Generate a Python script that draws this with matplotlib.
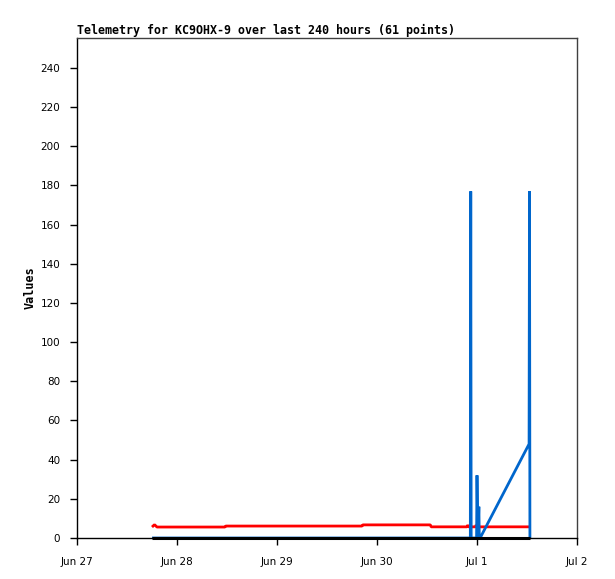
import matplotlib
matplotlib.use("Agg")
import matplotlib.pyplot as plt
import matplotlib.dates as mdates
from datetime import datetime, timedelta

start = datetime(2024, 6, 27)

# hours since Jun 27 00:00
red_hours = [18.0, 18.6, 19.2, 35.5, 35.7, 68.4, 68.6, 84.8, 85.0, 93.6, 93.8, 94.0, 95.6, 95.8, 96.0, 108.7]
red_vals = [5.6, 6.8, 5.6, 5.6, 6.1, 6.1, 6.7, 6.7, 5.7, 5.7, 6.6, 5.7, 5.7, 6.6, 5.7, 5.7]

black_hours = [18.0, 108.7]
black_vals = [0, 0]

blue_hours = [18.0, 94.4, 94.5, 94.6, 95.9, 96.0, 96.2, 96.45, 96.55, 96.75, 108.5, 108.6, 108.7]
blue_vals = [0, 0, 177, 0, 0, 32, 0, 16, 0, 0, 48, 177, 0]

tick_days = [0, 1, 2, 3, 4, 5]
tick_labels = ["Jun 27", "Jun 28", "Jun 29", "Jun 30", "Jul 1", "Jul 2"]
y_ticks = list(range(0, 241, 20))

title = "Telemetry for KC9OHX-9 over last 240 hours (61 points)"


def to_num(hours):
    return [mdates.date2num(start + timedelta(hours=h)) for h in hours]


fig = plt.figure(figsize=(6.15, 5.79), dpi=100)
ax = fig.add_axes([77 / 615, 41 / 579, 500 / 615, 500 / 579])

ax.plot(to_num(red_hours), red_vals, color="#ff0000", lw=2,
        solid_joinstyle="bevel", solid_capstyle="butt")
ax.plot(to_num(blue_hours), blue_vals, color="#0066cc", lw=2,
        solid_joinstyle="bevel", solid_capstyle="butt")
ax.plot(to_num(black_hours), black_vals, color="#000000", lw=2.2,
        solid_capstyle="butt", clip_on=False, zorder=3)

ax.set_ylim(0, 255.3)
ax.set_xlim(mdates.date2num(start), mdates.date2num(start + timedelta(days=5)))

ax.set_yticks(y_ticks)
ax.set_yticklabels([str(v) for v in y_ticks], fontsize=7.5, family="DejaVu Sans")
ax.set_xticks([mdates.date2num(start + timedelta(days=d)) for d in tick_days])
ax.set_xticklabels(tick_labels, fontsize=7.5, family="DejaVu Sans")
ax.tick_params(axis="y", direction="out", length=5, width=1, pad=7)
ax.tick_params(axis="x", direction="out", length=5, width=1, pad=9)
for s in ax.spines.values():
    s.set_linewidth(1)
ax.spines["top"].set_color("#404040")
ax.spines["right"].set_color("#404040")

ax.set_ylabel("Values", fontsize=8.5, family="DejaVu Sans Mono", fontweight="bold", labelpad=3)
ax.set_title(title, loc="left", fontsize=8.35, family="DejaVu Sans Mono", fontweight="bold", pad=3)

fig.savefig("out.png", dpi=100)
